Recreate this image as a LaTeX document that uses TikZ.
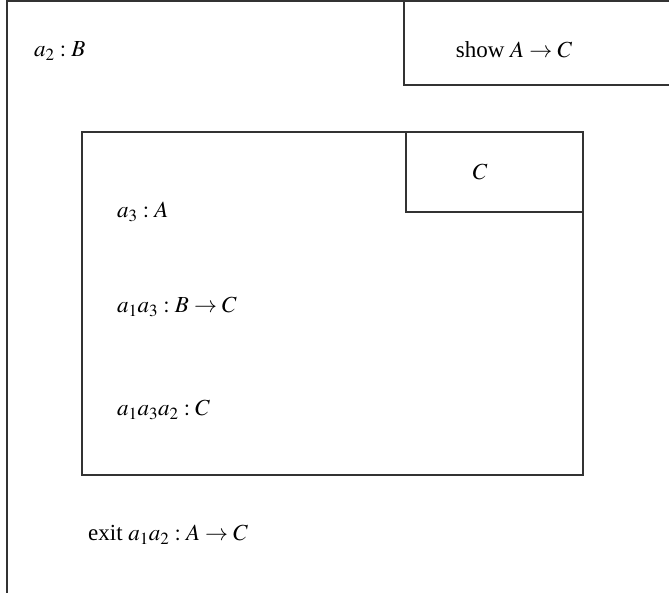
\documentclass[tikz,border=0pt]{standalone}
\usepackage{mathptmx}
\usepackage[no-math]{fontspec}
\setmainfont{Liberation Serif}
\begin{document}
\begin{tikzpicture}[x=1pt,y=-1pt,
  frame/.style={draw=black!80,line width=1.1pt},
  lbl/.style={inner sep=0pt,font=\fontsize{23}{27}\selectfont}]
\useasboundingbox (0,0) rectangle (669,593);
\begin{scope}
\clip (0,0) rectangle (669,593);
\draw[frame] (7,1) rectangle (680,600);
\draw[frame] (404,1) rectangle (680,85);
\end{scope}
\draw[frame] (82,132) rectangle (583,475);
\draw[frame] (406,132) rectangle (583,212);
\node[lbl,anchor=west] (a2) at (34,51) {$a_2 : B$};
\node[lbl] (show) at (514,50) {show $A \to C$};
\node[lbl] (c) at (480,172) {$C$};
\node[lbl,anchor=west] (a3) at (117,212) {$a_3 : A$};
\node[lbl,anchor=west] (a13) at (117,307) {$a_1 a_3 : B \to C$};
\node[lbl,anchor=west] (a132) at (117,410) {$a_1 a_3 a_2 : C$};
\node[lbl,anchor=west] (exit) at (88,535) {exit $a_1 a_2 : A \to C$};
\end{tikzpicture}
\end{document}
